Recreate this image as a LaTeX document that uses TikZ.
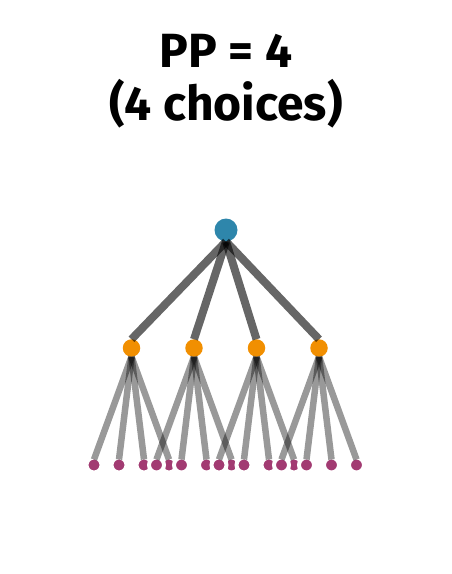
\documentclass[tikz,border=0pt]{standalone}
\usepackage{fontspec}
\setmainfont{Fira Sans}
\definecolor{rootc}{HTML}{2E86AB}
\definecolor{midc}{HTML}{F18F01}
\definecolor{leafc}{HTML}{A23B72}
\tikzset{
  rootnode/.style={circle,fill=rootc,inner sep=0pt,outer sep=0pt,minimum size=23pt},
  midnode/.style={circle,fill=midc,inner sep=0pt,outer sep=0pt,minimum size=17.5pt},
  leafnode/.style={circle,fill=leafc,draw=white,line width=4pt,inner sep=0pt,outer sep=-2pt,minimum size=15pt},
  topedge/.style={draw=black,opacity=0.6,line width=8pt},
  leafedge/.style={draw=black,opacity=0.4,line width=6.5pt},
  title/.style={anchor=base,inner sep=0pt,font=\bfseries\fontsize{48}{53}\selectfont}
}
\begin{document}
\begin{tikzpicture}[x=1pt,y=-1pt]
\useasboundingbox (0,0) rectangle (451,574);
\node[title] (t1) at (226,67) {PP = 4};
\node[title] (t2) at (226,120) {(4 choices)};
\node[rootnode] (root) at (226,230) {};
\foreach \i/\x in {1/131.5,2/194,3/256.5,4/319}{
  \node[midnode] (m\i) at (\x,348) {};
}
\foreach \i/\x in {1/131.5,2/194,3/256.5,4/319}{
  \foreach \j/\d in {1/-37.5,2/-12.5,3/12.5,4/37.5}{
    \node[leafnode] (l\i\j) at (\x+\d,465) {};
  }
}
\foreach \i in {1,2,3,4}{
  \draw[topedge] (root.south) -- (m\i.north);
  \foreach \j in {1,2,3,4}{
    \draw[leafedge] (m\i.south) -- (l\i\j.north);
  }
}
\end{tikzpicture}
\end{document}
